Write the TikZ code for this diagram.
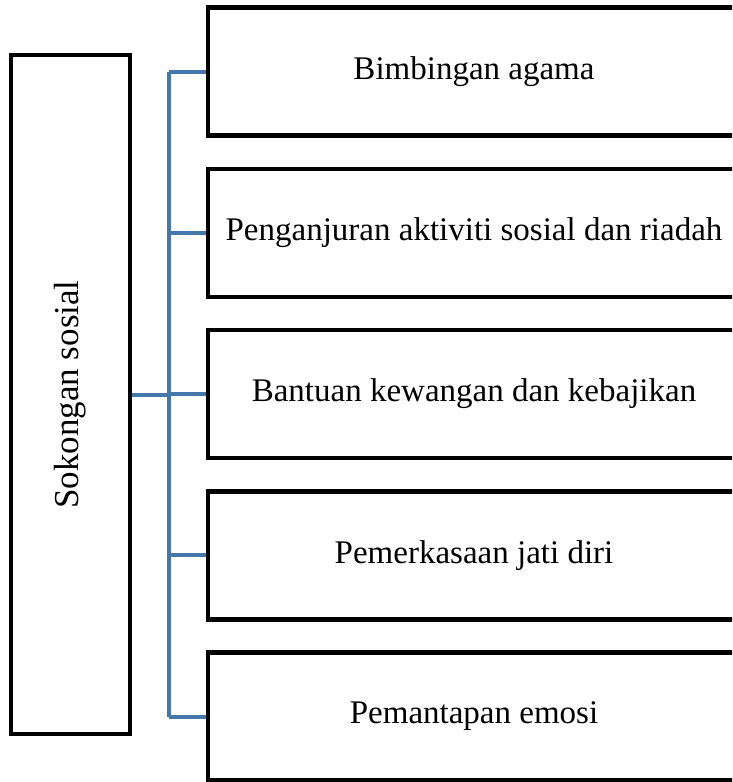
\documentclass[tikz,border=0pt]{standalone}
\usepackage{fontspec}
\setmainfont{Liberation Serif}
\usetikzlibrary{positioning}
\definecolor{linkblue}{RGB}{68,119,170}

\begin{document}
\begin{tikzpicture}[x=1pt,y=-1pt,
        box/.style={draw, line width=4.5pt, inner sep=0pt,
            font=\fontsize{33}{40}\selectfont},
        item/.style={box, minimum width=532pt, minimum height=128pt},
        link/.style={draw=linkblue, line width=4pt}]
    \useasboundingbox (0,0) rectangle (732,782);
    \clip (0,0) rectangle (732,782);

    \node[box, minimum width=119pt, minimum height=679pt,
        font=\fontsize{35}{42}\selectfont] (main) at (70.5,394.5)
        {\rotatebox{90}{Sokongan sosial}};

    \node[item] (b1) at (474,71.5) {Bimbingan agama};
    \node[item, below=28.75pt of b1] (b2) {Penganjuran aktiviti sosial dan riadah};
    \node[item, below=28.75pt of b2] (b3) {Bantuan kewangan dan kebajikan};
    \node[item, below=28.75pt of b3] (b4) {Pemerkasaan jati diri};
    \node[item, below=28.75pt of b4] (b5) {Pemantapan emosi};

    \coordinate (bus) at (169,0);
    \draw[link] (bus |- b1.west) -- (bus |- b5.west);
    \draw[link] (main.east) -- (bus |- main.east);
    \foreach \b in {b1,b2,b3,b4,b5}
        \draw[link] (bus |- \b.west) -- (\b.west);
\end{tikzpicture}
\end{document}
